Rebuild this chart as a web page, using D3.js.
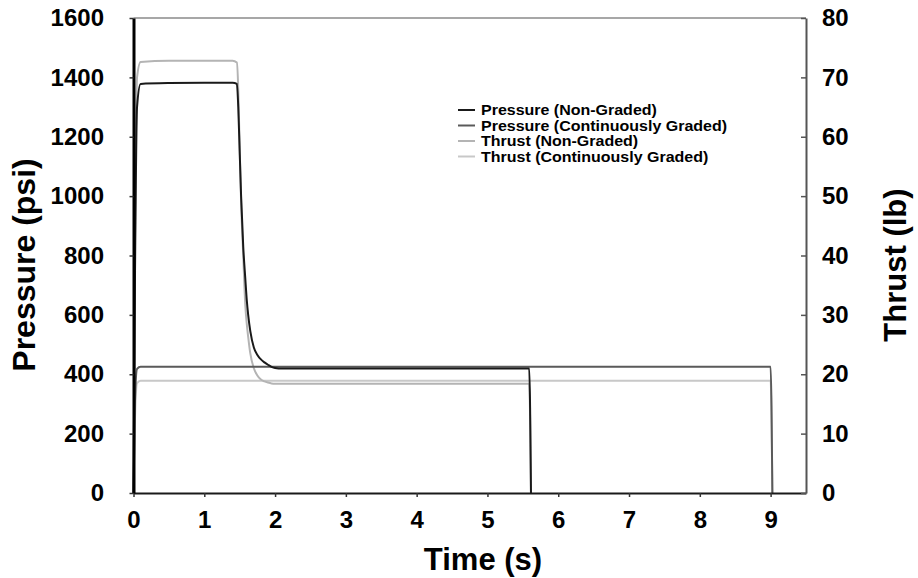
<!DOCTYPE html>
<html>
<head>
<meta charset="utf-8">
<script src="https://cdn.jsdelivr.net/npm/d3@7/dist/d3.min.js"></script>
<style>
  html, body { margin: 0; padding: 0; background: #fff; }
  svg { display: block; font-family: "Liberation Sans", Arial, sans-serif; font-weight: bold; }
</style>
</head>
<body>
<svg id="chart" width="918" height="578"></svg>
<script>
// Motor test record: chamber pressure and thrust vs. time for two grain designs.
const timeTicks = [0, 1, 2, 3, 4, 5, 6, 7, 8, 9];
const pressureTicks = [0, 200, 400, 600, 800, 1000, 1200, 1400, 1600];
const thrustTicks = [0, 10, 20, 30, 40, 50, 60, 70, 80];

// Non-graded grain (s)
const timeNonGraded = [0, 0.02, 0.05, 0.1, 0.5, 1.0, 1.4, 1.46, 1.48, 1.5, 1.52, 1.55, 1.58, 1.6, 1.62, 1.65, 1.7, 1.75, 1.8, 1.85, 1.9, 1.95, 2.0, 2.1, 3, 4, 5, 5.59, 5.615];
// psi
const pressureNonGraded = [0, 700, 1300, 1378, 1381, 1382, 1382, 1378, 1300, 1150, 1000, 830, 720, 650, 600, 545, 490, 465, 450, 440, 432, 425, 421, 419, 419, 419, 419, 419, 0];
// lb
const thrustNonGraded = [0, 40, 70, 72.6, 72.8, 72.8, 72.8, 72.5, 68, 58, 49, 40, 31.5, 28.5, 26.3, 23.5, 21, 19.8, 19.1, 18.8, 18.6, 18.45, 18.4, 18.4, 18.4, 18.4, 18.4, 18.4, 0];

// Continuously graded grain (s)
const timeGraded = [0, 0.02, 0.05, 0.1, 1, 3, 5, 7, 9.0, 9.025];
const pressureGraded = [0, 300, 418, 425, 425, 425, 425, 425, 425, 0];
const thrustGraded = [0, 12, 18.5, 18.9, 18.9, 18.9, 18.9, 18.9, 18.9, 0];

const seriesNames = ["Pressure (Non-Graded)", "Pressure (Continuously Graded)", "Thrust (Non-Graded)", "Thrust (Continuously Graded)"];
const seriesColors = ["#1a1a1a", "#5a5a5a", "#b4b4b4", "#c8c8c8"];

const svg = d3.select("#chart");
const plotLeft = 133.5, plotRight = 806, plotTop = 18, plotBottom = 493;

const x = d3.scaleLinear().domain([0, 9.5]).range([plotLeft, plotRight]);
const yP = d3.scaleLinear().domain([0, 1600]).range([plotBottom, plotTop]);
const yT = d3.scaleLinear().domain([0, 80]).range([plotBottom, plotTop]);

// frame top edge
svg.append("line")
  .attr("x1", plotLeft).attr("x2", plotRight).attr("y1", plotTop).attr("y2", plotTop)
  .attr("stroke", "#8a8a8a").attr("stroke-width", 1.5);

// series
const series = [
  { name: seriesNames[3], t: timeGraded, v: thrustGraded, y: yT, color: seriesColors[3] },
  { name: seriesNames[2], t: timeNonGraded, v: thrustNonGraded, y: yT, color: seriesColors[2] },
  { name: seriesNames[1], t: timeGraded, v: pressureGraded, y: yP, color: seriesColors[1] },
  { name: seriesNames[0], t: timeNonGraded, v: pressureNonGraded, y: yP, color: seriesColors[0] }
];

const plot = svg.append("g");
series.forEach(s => {
  const pts = s.t.map((t, i) => [t, s.v[i]]);
  const line = d3.line()
    .x(d => x(d[0]))
    .y(d => s.y(d[1]))
    .curve(d3.curveMonotoneX);
  plot.append("path")
    .datum(pts)
    .attr("d", line)
    .attr("fill", "none")
    .attr("stroke", s.color)
    .attr("stroke-width", 2)
    .attr("stroke-linejoin", "round");
});

// axes
const tickFont = g => g.selectAll("text")
  .attr("font-size", 24)
  .attr("font-weight", "bold")
  .attr("fill", "#000")
  .attr("font-family", '"Liberation Sans", Arial, sans-serif');

const xAxis = svg.append("g")
  .attr("transform", `translate(0,${plotBottom})`)
  .call(d3.axisBottom(x).tickValues(timeTicks).tickFormat(d3.format("d")).tickSize(4).tickSizeOuter(0).tickPadding(14))
  .call(tickFont);
xAxis.select(".domain").attr("stroke", "#1a1a1a").attr("stroke-width", 2);
xAxis.selectAll(".tick line").attr("stroke", "#333").attr("stroke-width", 1.5);

const yAxisL = svg.append("g")
  .attr("transform", `translate(${plotLeft},0)`)
  .call(d3.axisLeft(yP).tickValues(pressureTicks).tickFormat(d3.format("d")).tickSize(4).tickSizeOuter(0).tickPadding(25.5))
  .call(tickFont);
yAxisL.select(".domain").attr("stroke", "#000").attr("stroke-width", 3);
yAxisL.selectAll(".tick line").attr("stroke", "#333").attr("stroke-width", 1.5);

const yAxisR = svg.append("g")
  .attr("transform", `translate(${plotRight},0)`)
  .call(d3.axisRight(yT).tickValues(thrustTicks).tickFormat(d3.format("d")).tickSize(-5).tickSizeOuter(0).tickPadding(16))
  .call(tickFont);
yAxisR.select(".domain").attr("stroke", "#555").attr("stroke-width", 2);
yAxisR.selectAll(".tick line").attr("stroke", "#555").attr("stroke-width", 1.5);

// axis titles
svg.append("text")
  .attr("transform", "translate(35,265) rotate(-90)")
  .attr("text-anchor", "middle")
  .attr("font-size", 32)
  .text("Pressure (psi)");

svg.append("text")
  .attr("transform", "translate(906,265) rotate(-90)")
  .attr("text-anchor", "middle")
  .attr("font-size", 31)
  .text("Thrust (lb)");

svg.append("text")
  .attr("x", 483).attr("y", 570)
  .attr("text-anchor", "middle")
  .attr("font-size", 31)
  .text("Time (s)");

// legend
const legendRows = [110, 125.5, 141, 156.5];
const legend = svg.append("g");
seriesNames.forEach((name, i) => {
  const cy = legendRows[i];
  legend.append("line")
    .attr("x1", 458).attr("x2", 475).attr("y1", cy).attr("y2", cy)
    .attr("stroke", seriesColors[i]).attr("stroke-width", 2);
  legend.append("text")
    .attr("transform", `translate(481,${cy + 5}) scale(1,0.86)`)
    .attr("font-size", 16)
    .text(name);
});
</script>
</body>
</html>
